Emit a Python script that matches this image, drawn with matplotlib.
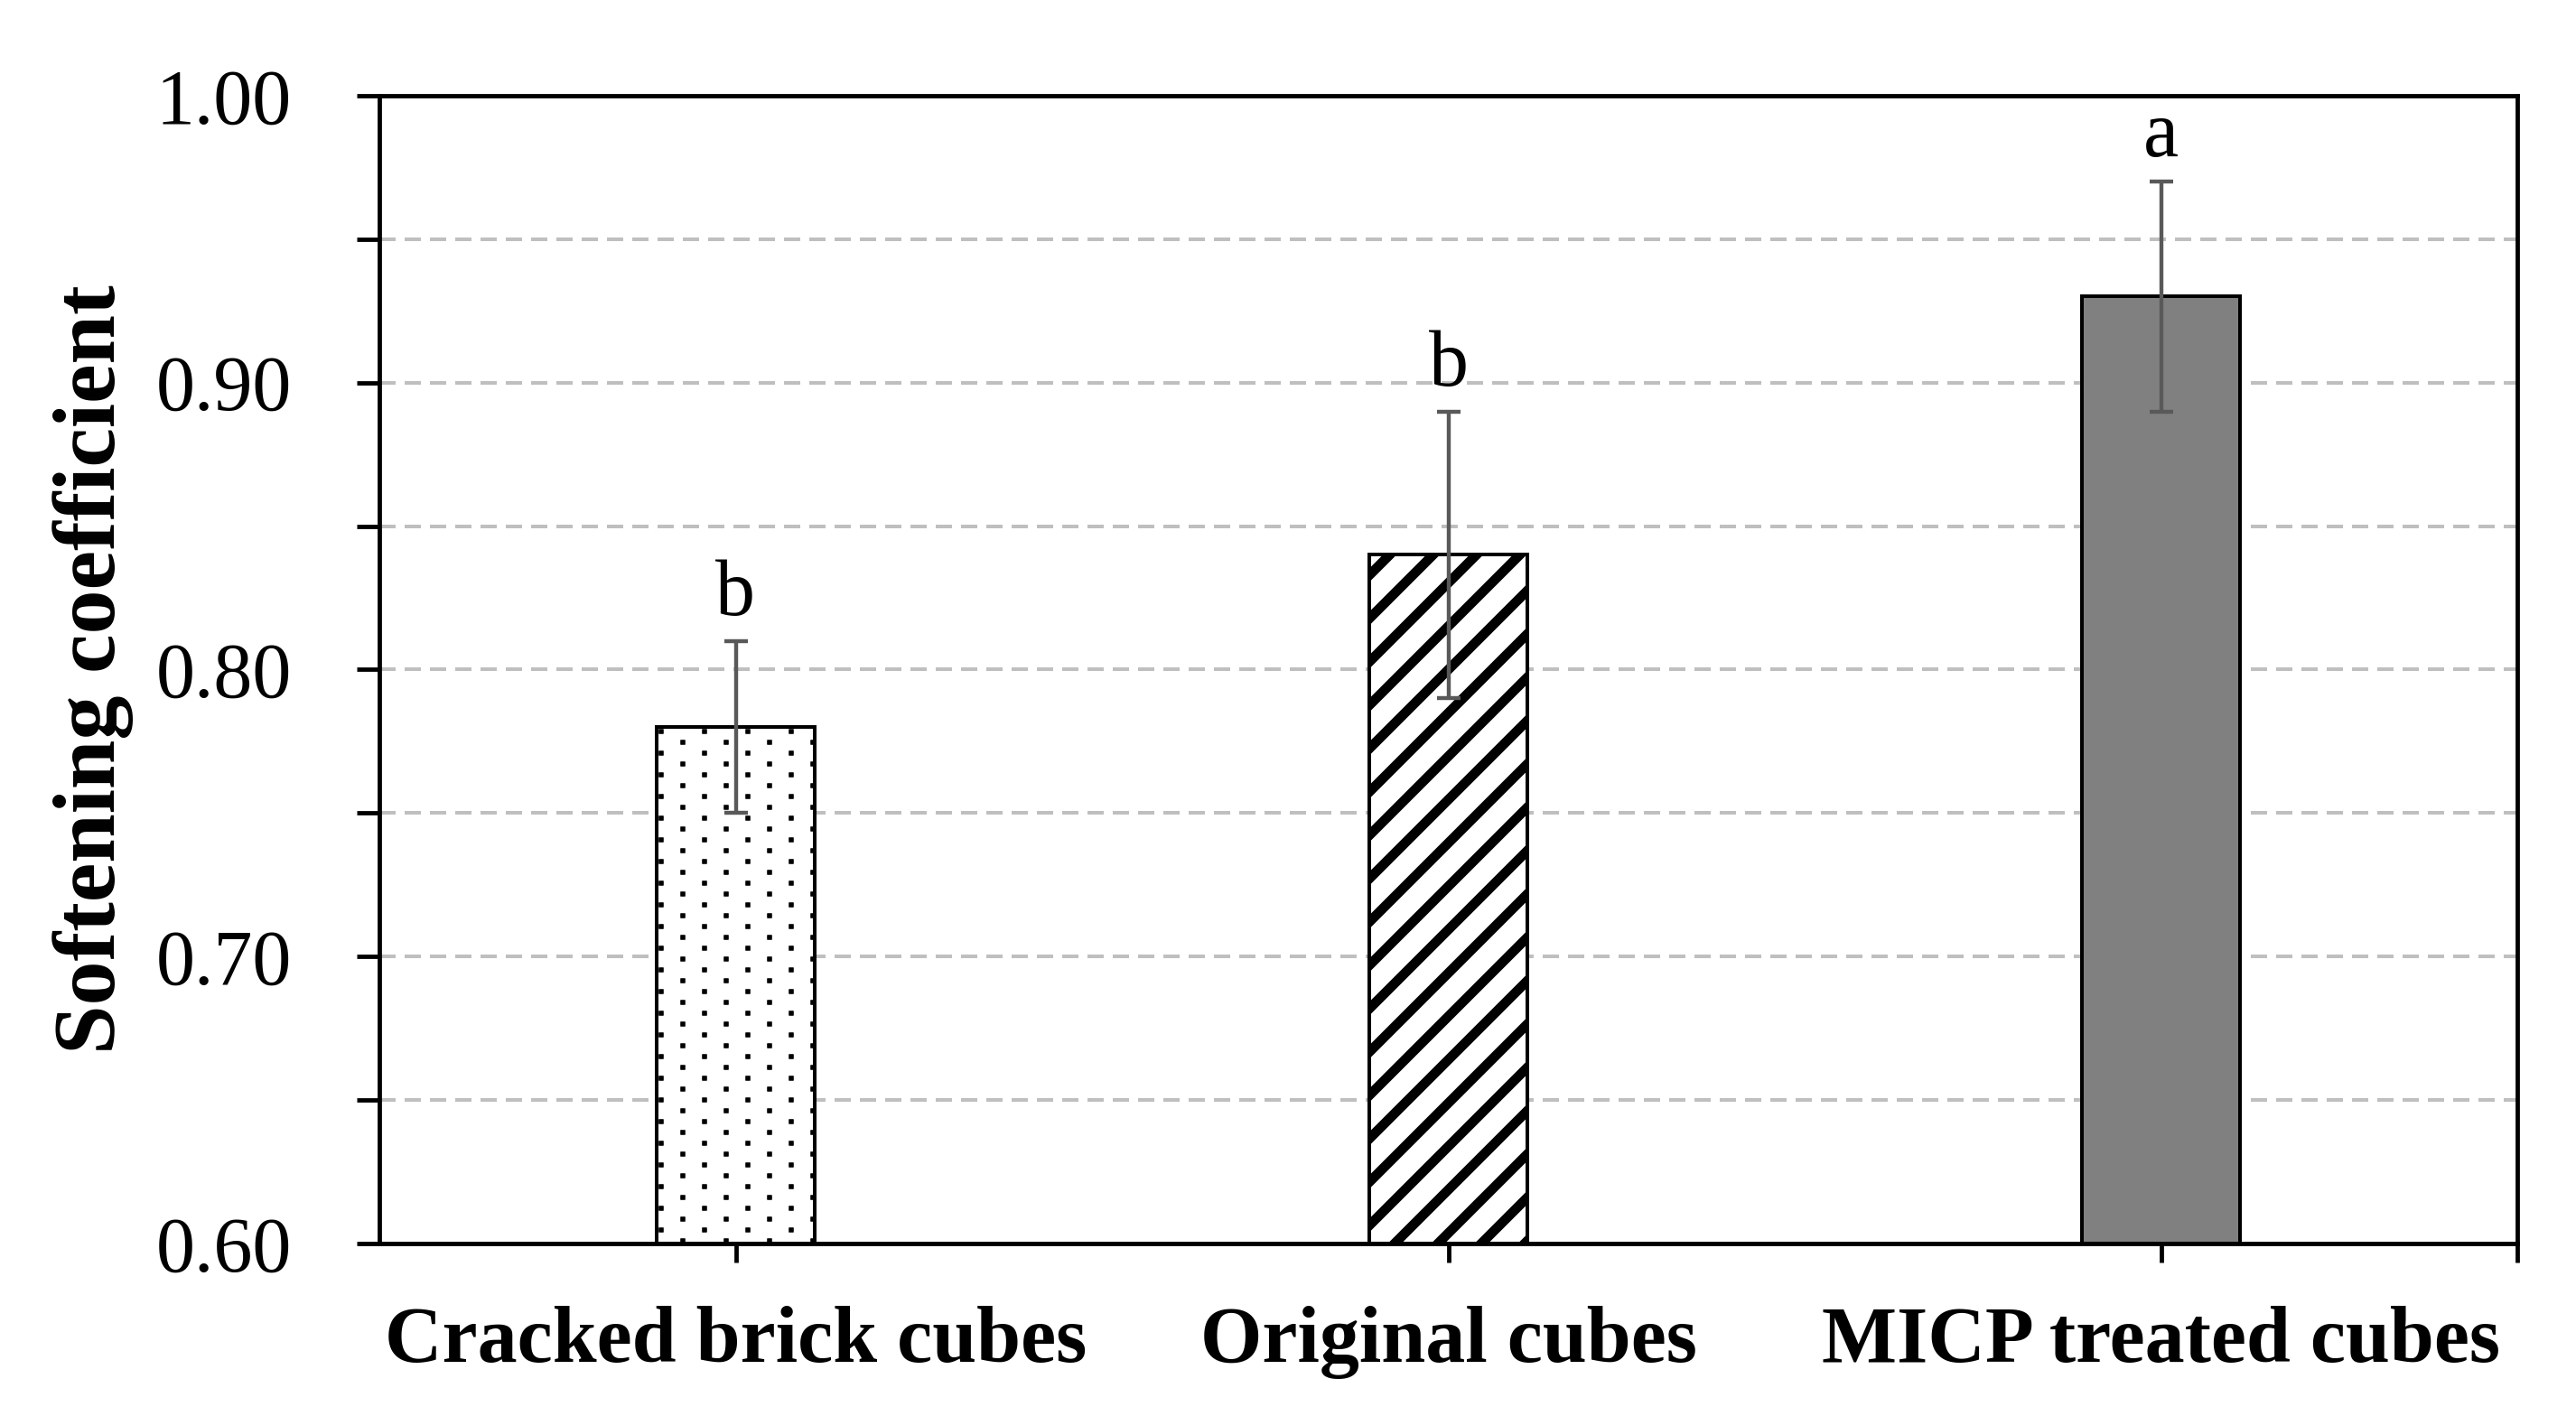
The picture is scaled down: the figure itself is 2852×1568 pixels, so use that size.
import numpy as np
import matplotlib
matplotlib.use("Agg")
import matplotlib.pyplot as plt
import matplotlib.hatch as mhatch
from matplotlib.path import Path
from matplotlib.ticker import MultipleLocator, FixedLocator

# data
categories = ["Cracked brick cubes", "Original cubes", "MICP treated cubes"]
softening = [0.78, 0.84, 0.93]
sd = [0.03, 0.05, 0.04]
letters = ["b", "b", "a"]


# custom hatch fills (excel-like): staggered square dots and thick diagonal bands
class StaggeredDots:
    def __init__(self, hatch, density):
        self.ncols = density          # dots per row in one hatch cell
        self.nrows = density * 4      # rows in one hatch cell
        self.num_vertices = self.ncols * self.nrows * 5 if '.' in hatch else 0

    def set_vertices_and_codes(self, vertices, codes):
        h = 0.008
        k = 0
        for j in range(self.nrows):
            y = (j + 0.5) / self.nrows
            shift = 0.25 if j % 2 == 0 else 0.75
            for i in range(self.ncols):
                x = (i + shift) / self.ncols
                vertices[k:k + 5] = [(x - h, y - h), (x + h, y - h),
                                     (x + h, y + h), (x - h, y + h), (x - h, y - h)]
                codes[k:k + 5] = [Path.MOVETO, Path.LINETO, Path.LINETO,
                                  Path.LINETO, Path.CLOSEPOLY]
                k += 5


class ThickBands:
    def __init__(self, hatch, density):
        self.n = density
        self.num_vertices = (2 * density + 1) * 5 if '/' in hatch else 0

    def set_vertices_and_codes(self, vertices, codes):
        t = 14 / 288
        k = 0
        for i in range(-self.n, self.n + 1):
            c = i / self.n
            vertices[k:k + 5] = [(-0.1, -0.1 + c), (1.1, 1.1 + c),
                                 (1.1, 1.1 + c + t), (-0.1, -0.1 + c + t),
                                 (-0.1, -0.1 + c)]
            codes[k:k + 5] = [Path.MOVETO, Path.LINETO, Path.LINETO,
                              Path.LINETO, Path.CLOSEPOLY]
            k += 5


mhatch._hatch_types = [StaggeredDots, ThickBands]

plt.rcParams['font.family'] = ['Liberation Serif', 'DejaVu Serif']
plt.rcParams['hatch.linewidth'] = 0.2
plt.rcParams['hatch.color'] = 'black'

dpi = 288
fig = plt.figure(figsize=(2852 / dpi, 1568 / dpi), dpi=dpi)
ax = fig.add_axes([420 / 2852, 1 - 1377 / 1568, (2787 - 420) / 2852, (1377 - 106) / 1568])

x = np.arange(len(categories))
styles = [dict(color='white', hatch='.'),
          dict(color='white', hatch='/'),
          dict(color='#808080', hatch=None)]
for xi, v, st in zip(x, softening, styles):
    ax.bar(xi, v - 0.6, bottom=0.6, width=0.223, facecolor=st['color'],
           edgecolor='black', linewidth=1.0, hatch=st['hatch'], zorder=3)

ax.errorbar(x, softening, yerr=sd, fmt='none', ecolor='#595959',
            elinewidth=1.1, capsize=3.3, capthick=1.1, zorder=4)

for xi, v, e, lab in zip(x, softening, sd, letters):
    ax.text(xi, v + e + 0.009, lab, ha='center', va='baseline', fontsize=22)

ax.set_xlim(-0.5, 2.5)
ax.set_ylim(0.6, 1.0)

# grid at every 0.05
ax.yaxis.set_major_locator(MultipleLocator(0.1))
ax.yaxis.set_minor_locator(MultipleLocator(0.05))
ax.yaxis.set_major_formatter(matplotlib.ticker.FormatStrFormatter('%.2f'))
ax.grid(axis='y', which='both', color='#bfbfbf', linewidth=1.0,
        linestyle=(0, (4.5, 2.5)), zorder=0)
ax.set_axisbelow(True)

ax.set_xticks(x)
ax.set_xticklabels(categories, fontsize=22, fontweight='bold')
ax.xaxis.set_minor_locator(FixedLocator([2.5]))

ax.tick_params(axis='y', which='both', direction='out', length=6.3, width=1.2,
               labelsize=21.5, pad=18, right=False)
ax.tick_params(axis='x', which='both', direction='out', length=5.3, width=1.2,
               pad=12, top=False)

for s in ax.spines.values():
    s.set_linewidth(1.2)

ax.set_ylabel("Softening coefficient", fontsize=24.5, fontweight='bold', labelpad=6)

fig.savefig("out.png", dpi=dpi)
